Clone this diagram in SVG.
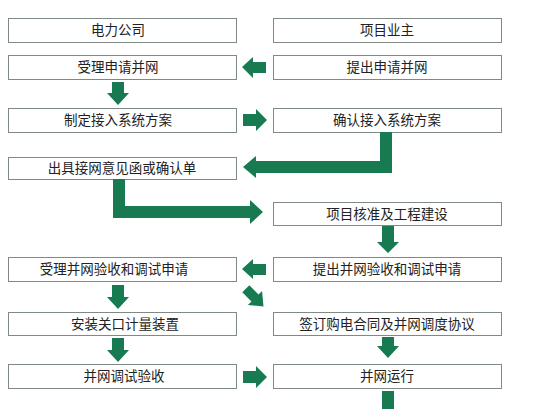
<svg xmlns="http://www.w3.org/2000/svg" width="550" height="409" viewBox="0 0 550 409">
<style>
.box{fill:#fff;stroke:#7f8a84;stroke-width:1}
.t{font-family:"Noto Sans CJK SC","Liberation Sans",sans-serif;font-size:13.5px;fill:#222;text-anchor:middle}
.ar{fill:#177a50}
</style>
<rect width="550" height="409" fill="#fff"/>
<g id="n1"><rect class="box" x="8.5" y="18.5" width="228" height="24"/><text class="t" x="118" y="35">电力公司</text></g>
<g id="n2"><rect class="box" x="273.5" y="18.5" width="228" height="24"/><text class="t" x="387" y="35">项目业主</text></g>
<g id="n3"><rect class="box" x="8.5" y="55.5" width="228" height="24"/><text class="t" x="118" y="72">受理申请并网</text></g>
<g id="n4"><rect class="box" x="273.5" y="55.5" width="228" height="24"/><text class="t" x="387" y="72">提出申请并网</text></g>
<g id="n5"><rect class="box" x="8.5" y="108.5" width="228" height="24"/><text class="t" x="118" y="125">制定接入系统方案</text></g>
<g id="n6"><rect class="box" x="273.5" y="108.5" width="228" height="24"/><text class="t" x="387" y="125">确认接入系统方案</text></g>
<g id="n7"><rect class="box" x="8.5" y="157.5" width="228" height="22"/><text class="t" x="122" y="173">出具接网意见函或确认单</text></g>
<g id="n8"><rect class="box" x="273.5" y="202.5" width="228" height="23"/><text class="t" x="387" y="219">项目核准及工程建设</text></g>
<g id="n9"><rect class="box" x="8.5" y="257.5" width="228" height="24"/><text class="t" x="114" y="274">受理并网验收和调试申请</text></g>
<g id="n10"><rect class="box" x="273.5" y="257.5" width="228" height="24"/><text class="t" x="387" y="274">提出并网验收和调试申请</text></g>
<g id="n11"><rect class="box" x="8.5" y="312.5" width="228" height="23"/><text class="t" x="125" y="329">安装关口计量装置</text></g>
<g id="n12"><rect class="box" x="273.5" y="312.5" width="228" height="23"/><text class="t" x="387" y="329">签订购电合同及并网调度协议</text></g>
<g id="n13"><rect class="box" x="8.5" y="364.5" width="228" height="24"/><text class="t" x="124" y="381">并网调试验收</text></g>
<g id="n14"><rect class="box" x="273.5" y="364.5" width="228" height="24"/><text class="t" x="387" y="381">并网运行</text></g>
<g id="connectors" class="ar">
<polygon points="242,67 253,57 253,62 266,62 266,73 253,73 253,78"/>
<polygon points="112,82 124,82 124,93 129,93 118,105 107,93 112,93"/>
<polygon points="243,114 256,114 256,109 267,120 256,131 256,126 243,126"/>
<polygon points="380,132 392,132 392,173 256,173 256,178 243,167 256,156 256,161 380,161"/>
<polygon points="113,179 125,179 125,206 250,206 250,200 263,212 250,224 250,218 113,218"/>
<polygon points="382,226 394,226 394,242 399,242 388,253 377,242 382,242"/>
<polygon points="242,269 253,259 253,264 266,264 266,275 253,275 253,279"/>
<polygon transform="translate(255,298) rotate(45)" points="-13,-5 0,-5 0,-10 12,0 0,10 0,5 -13,5"/>
<polygon points="112,285 124,285 124,297 129,297 118,309 107,297 112,297"/>
<polygon points="112,338 124,338 124,350 129,350 118,362 107,350 112,350"/>
<polygon points="382,337 394,337 394,346 399,346 388,358 377,346 382,346"/>
<polygon points="243,371 256,371 256,366 267,377 256,388 256,383 243,383"/>
<rect x="382" y="391" width="12" height="18"/>
</g>
</svg>
